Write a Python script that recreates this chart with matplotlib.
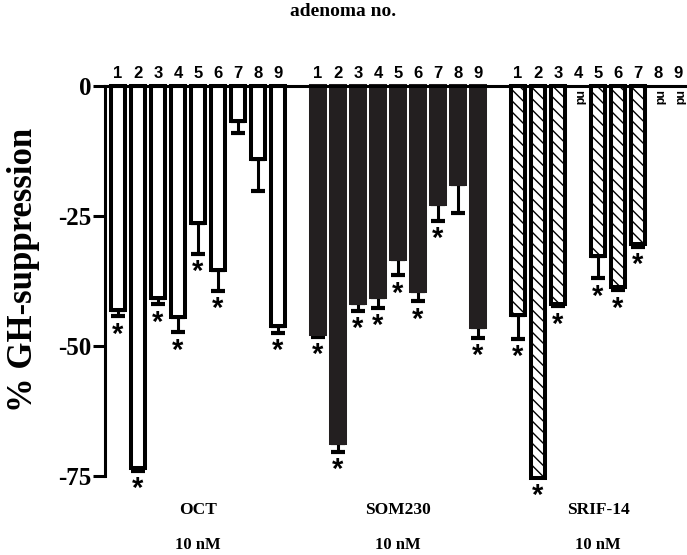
import numpy as np
import matplotlib
matplotlib.use("Agg")
import matplotlib.pyplot as plt

plt.rcParams['hatch.linewidth'] = 1.0

SERIF = 'Liberation Serif'
SANS = 'Liberation Sans'

# adenoma numbers and % GH suppression (mean, lower SEM); None = not determined
adenoma = [1, 2, 3, 4, 5, 6, 7, 8, 9]
oct_vals = [-43.0, -73.5, -40.8, -44.5, -26.3, -35.4, -6.7, -14.1, -46.2]
oct_err = [1.3, 0.5, 1.2, 2.9, 6.0, 4.0, 2.3, 6.0, 1.3]
oct_sig = [1, 1, 1, 1, 1, 1, 0, 0, 1]
som_vals = [-47.7, -68.7, -41.7, -40.5, -33.3, -39.4, -22.7, -18.8, -46.3]
som_err = [0.6, 1.6, 1.5, 2.2, 3.1, 2.0, 3.3, 5.6, 2.2]
som_sig = [1, 1, 1, 1, 1, 1, 1, 0, 1]
srif_vals = [-44.0, -75.3, -41.9, None, -32.7, -38.6, -30.4, None, None]
srif_err = [4.7, 0.0, 0.5, None, 4.3, 0.7, 0.6, None, None]
srif_sig = [1, 1, 1, 0, 1, 1, 1, 0, 0]
groups = ['OCT', 'SOM230', 'SRIF-14']
dose = '10 nM'

fig = plt.figure(figsize=(6.87, 5.55), dpi=100)
ax = fig.add_axes([105 / 687, 79 / 555, 582 / 687, 390 / 555])

series = [
    (oct_vals, oct_err, oct_sig, dict(color='white', edgecolor='black')),
    (som_vals, som_err, som_sig, dict(color='#231f20', edgecolor='#231f20')),
    (srif_vals, srif_err, srif_sig, dict(color='white', edgecolor='black', hatch='\\\\\\')),
]

bw = 0.68
for g, (vals, errs, sig, style) in enumerate(series):
    base = g * 10
    for i, n in enumerate(adenoma):
        x = base + i
        ax.text(x, 2.5, str(n), ha='center', va='center', fontsize=12,
                fontweight='bold', family=SANS, clip_on=False)
        v = vals[i]
        if v is None:
            ax.text(x, -0.8, 'nd', ha='center', va='top', rotation=-90,
                    fontsize=9, fontweight='bold', family=SANS)
            continue
        e = errs[i]
        if e > 0:
            ax.errorbar(x, v, yerr=[[e], [0]], fmt='none', ecolor='black',
                        elinewidth=2.2, capsize=5, capthick=3, zorder=1,
                        clip_on=False)
        ax.bar(x, v, width=bw, linewidth=2.9, zorder=2, clip_on=False, **style)
        if sig[i]:
            ax.annotate('*', (x, v - e), xytext=(0, -3), textcoords='offset points',
                        ha='center', va='top', fontsize=21, fontweight='bold',
                        family=SANS, annotation_clip=False)
    ax.text(base + 4, -81.5, groups[g], ha='center', va='center', fontsize=12.5,
            fontweight='bold', family=SERIF, clip_on=False)
    ax.text(base + 4, -88.3, dose, ha='center', va='center', fontsize=12,
            fontweight='bold', family=SERIF, clip_on=False)

ax.set_xlim(-0.65, 28.45)
ax.set_ylim(-75, 0)
ax.set_yticks([0, -25, -50, -75])
ax.set_yticklabels(['0', '-25', '-50', '-75'], fontsize=18, fontweight='bold',
                   family=SERIF)
ax.set_xticks([])
ax.spines['right'].set_visible(False)
ax.spines['bottom'].set_visible(False)
for s in ('left', 'top'):
    ax.spines[s].set_linewidth(2.2)
ax.tick_params(axis='y', length=9, width=2.2, pad=1)
ax.set_zorder(1)

fig.text(24 / 687, 1 - 270 / 555, '% GH-suppression', rotation=90, ha='center',
         va='center', fontsize=25, fontweight='bold', family=SERIF)
fig.text(0.5, 1 - 12 / 555, 'adenoma no.', ha='center', va='center',
         fontsize=14, fontweight='bold', family=SERIF)

fig.savefig('out.png', dpi=100)
